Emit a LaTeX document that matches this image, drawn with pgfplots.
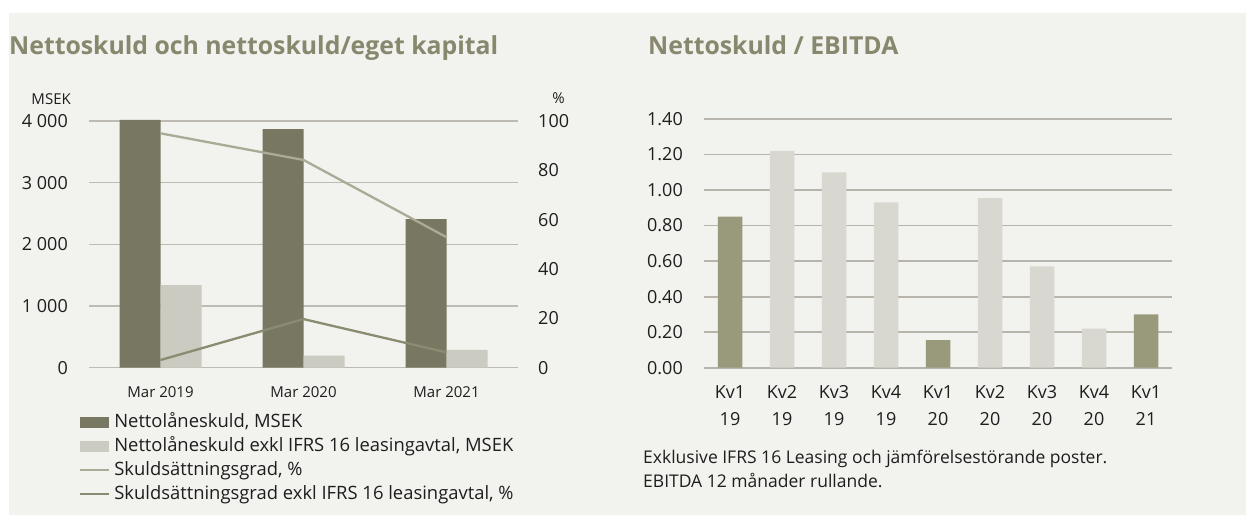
\documentclass[border=0pt]{standalone}
\usepackage{pgfplots}
\pgfplotsset{compat=1.18}
\usepackage{fontspec}
\setmainfont{Open Sans}
\definecolor{bg}{RGB}{242,242,238}
\definecolor{titlecol}{RGB}{136,136,110}
\definecolor{txt}{RGB}{30,30,30}
\definecolor{darkbar}{RGB}{120,119,98}
\definecolor{lightbar}{RGB}{203,203,193}
\definecolor{lineA}{RGB}{170,171,151}
\definecolor{lineB}{RGB}{139,139,113}
\definecolor{rdark}{RGB}{153,153,124}
\definecolor{rlight}{RGB}{216,216,208}
\definecolor{gridcol}{RGB}{190,187,180}
\definecolor{gridcolB}{RGB}{183,180,172}
\pgfplotsset{
  barlegend/.style={legend image code/.code={\fill[##1] (0pt,-5.5pt) rectangle (29pt,5.5pt);}},
  linelegend/.style={legend image code/.code={\draw[##1] (0pt,0pt) -- (29pt,0pt);}},
}
\begin{document}
\begin{tikzpicture}[x=1pt,y=1pt]
\fill[white] (0,0) rectangle (1246,516);
\useasboundingbox (0,0) rectangle (1246,516);
\fill[bg] (9,1) rectangle (1246,503);
\node[anchor=base west, inner sep=0pt, text=titlecol, font=\fontsize{24.8}{29}\selectfont\bfseries] at (9,461) {Nettoskuld och nettoskuld/eget kapital};
\node[anchor=base west, inner sep=0pt, text=titlecol, font=\fontsize{24.8}{29}\selectfont\bfseries] at (648,461) {Nettoskuld / EBITDA};
\node[anchor=base east, inner sep=0pt, text=txt, font=\fontsize{15}{18}\selectfont] at (71,411.6) {MSEK};
\node[anchor=base, inner sep=0pt, text=txt, font=\fontsize{15}{18}\selectfont] at (558.5,412) {\%};
\node[anchor=base west, inner sep=0pt, text=txt, font=\fontsize{17.5}{21}\selectfont] at (643,52) {Exklusive IFRS 16 Leasing och jämförelsestörande poster.};
\node[anchor=base west, inner sep=0pt, text=txt, font=\fontsize{17.5}{21}\selectfont] at (643,28) {EBITDA 12 månader rullande.};

% left chart, bars
\begin{axis}[
  at={(89pt,148.3pt)}, anchor=south west, scale only axis,
  width=429pt, height=246.7pt,
  xmin=-0.5, xmax=2.5, ymin=0, ymax=4000, clip=false,
  axis line style={draw=none}, major tick length=0pt,
  ymajorgrids, grid style={gridcol, line width=1.3pt},
  ytick={0,1000,2000,3000,4000},
  yticklabels={0,1 000,2 000,3 000,4 000},
  yticklabel style={anchor=east, inner sep=0pt, xshift=-21pt, text=txt, font=\fontsize{18}{22}\selectfont},
  xtick={0,1,2}, xticklabels={Mar 2019,Mar 2020,Mar 2021},
  xticklabel style={anchor=base, inner sep=0pt, yshift=-29.7pt, text=txt, font=\fontsize{15}{18}\selectfont},
  ybar=0pt, bar width=41pt,
]
\addplot[fill=darkbar, draw=none] coordinates {(0,4020) (1,3870) (2,2410)};
\addplot[fill=lightbar, draw=none] coordinates {(0,1340) (1,195) (2,287)};
\end{axis}

% left chart, percent lines + legend
\begin{axis}[
  at={(89pt,148.3pt)}, anchor=south west, scale only axis,
  width=429pt, height=246.7pt,
  xmin=-0.5, xmax=2.5, ymin=0, ymax=100,
  axis y line*=right, axis x line=none,
  axis line style={draw=none}, major tick length=0pt,
  ytick={0,20,40,60,80,100}, yticklabels={0,20,40,60,80,100},
  yticklabel style={anchor=west, inner sep=0pt, xshift=20pt, text=txt, font=\fontsize{18}{22}\selectfont},
  legend cell align=left,
  legend style={draw=none, fill=none, at={(-0.0233,-0.1796)}, anchor=north west,
    inner sep=0pt, outer sep=0pt, row sep=4pt,
    nodes={inner sep=0pt, text height=15pt, text depth=5pt, text=txt, font=\fontsize{18.4}{22}\selectfont},
    /tikz/every odd column/.style={column sep=4pt}},
]
\addlegendimage{barlegend, fill=darkbar, draw=none}
\addlegendentry{Nettolåneskuld, MSEK}
\addlegendimage{barlegend, fill=lightbar, draw=none}
\addlegendentry{Nettolåneskuld exkl IFRS 16 leasingavtal, MSEK}
\addplot[lineA, line width=2.3pt, linelegend] coordinates {(0,95.0) (1,84.2) (2,52.9)};
\addlegendentry{Skuldsättningsgrad, \%}
\addplot[lineB, line width=2.3pt, linelegend] coordinates {(0,3.1) (1,19.7) (2,6.2)};
\addlegendentry{Skuldsättningsgrad exkl IFRS 16 leasingavtal, \%}
\end{axis}

% right chart
\begin{axis}[
  at={(704pt,148.3pt)}, anchor=south west, scale only axis,
  width=468pt, height=248.7pt,
  xmin=-0.5, xmax=8.5, ymin=0, ymax=1.4,
  axis line style={draw=none}, major tick length=0pt,
  ymajorgrids, grid style={gridcolB, line width=1.8pt},
  ytick={0,0.2,0.4,0.6,0.8,1,1.2,1.4},
  yticklabels={0.00,0.20,0.40,0.60,0.80,1.00,1.20,1.40},
  yticklabel style={anchor=east, inner sep=0pt, xshift=-21pt, text=txt, font=\fontsize{18}{22}\selectfont},
  xtick={0,1,2,3,4,5,6,7,8},
  xticklabels={Kv1\\19,Kv2\\19,Kv3\\19,Kv4\\19,Kv1\\20,Kv2\\20,Kv3\\20,Kv4\\20,Kv1\\21},
  xticklabel style={anchor=north, inner sep=0pt, yshift=-17.8pt, align=center, text=txt, font=\fontsize{18}{27}\selectfont},
]
\addplot[ybar, bar width=24.5pt, bar shift=0pt, fill=rdark, draw=none] coordinates {(0,0.85) (4,0.155) (8,0.30)};
\addplot[ybar, bar width=24.5pt, bar shift=0pt, fill=rlight, draw=none] coordinates {(1,1.22) (2,1.10) (3,0.93) (5,0.955) (6,0.57) (7,0.22)};
\end{axis}
\end{tikzpicture}
\end{document}
